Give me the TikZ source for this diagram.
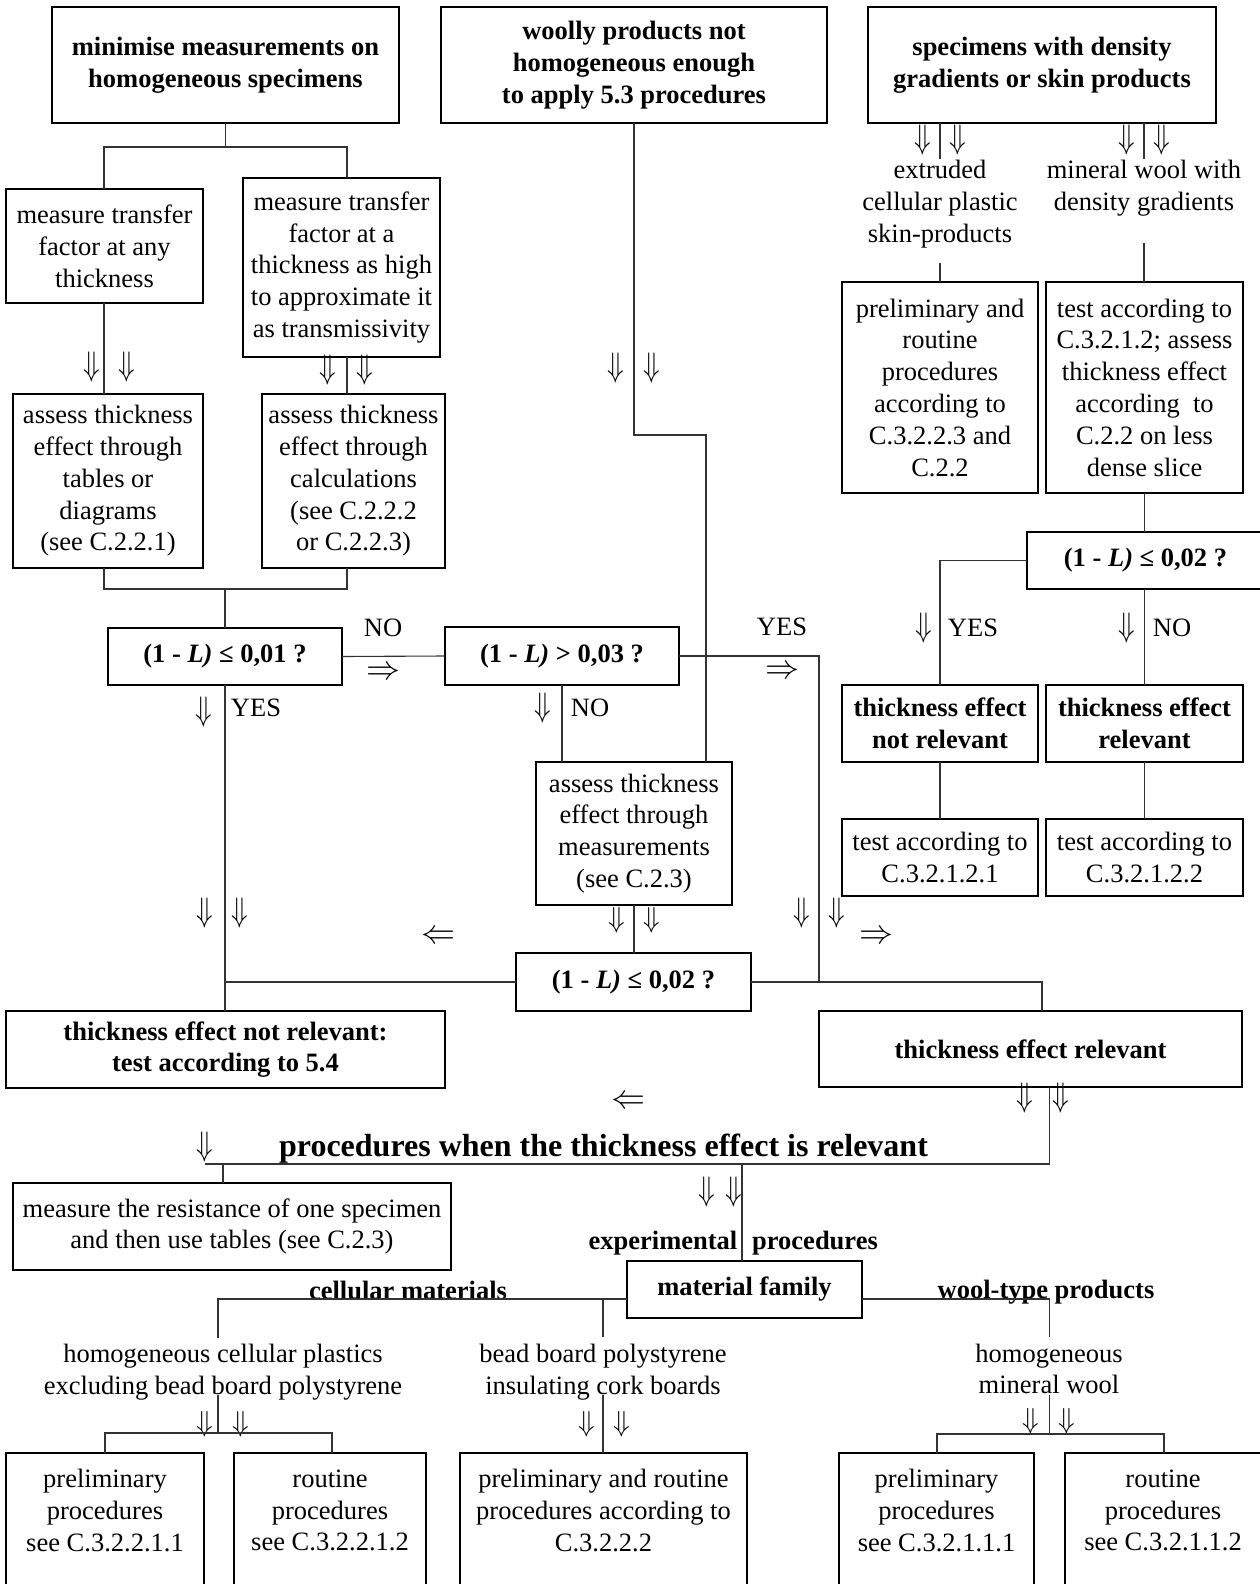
\RequirePackage{fix-cm}
\documentclass[tikz,border=0pt]{standalone}
\usepackage{graphicx}
\usepackage{fontspec}
\setmainfont{Liberation Serif}
\newcommand\fs{\fontsize{26.5}{31.8}\selectfont}
\newcommand\fsbig{\fontsize{32}{38}\selectfont}
\newcommand\fsarr{\fontsize{34}{40}\selectfont}
\begin{document}
\begin{tikzpicture}[x=1pt,y=-1pt,
  box/.style={draw, line width=1.2pt, inner sep=0pt, outer sep=0pt, align=center, font=\fs},
  bbox/.style={box, font=\fs\bfseries},
  lbl/.style={inner sep=0pt, outer sep=0pt, align=center, font=\fs},
  blbl/.style={lbl, font=\fs\bfseries},
  dn/.style={inner sep=0pt, outer sep=0pt, font=\fsarr},
  conn/.style={line width=1.1pt, draw=black!80}]
\useasboundingbox (0,0) rectangle (1260,1584);
\fill[white] (0,0) rectangle (1260,1584);
\clip (0,0) rectangle (1260,1584);

% ---------- boxes ----------
\node[bbox, minimum width=347, minimum height=116] (mini) at (225.5,65) {minimise measurements on\\homogeneous specimens};
\node[bbox, minimum width=386, minimum height=116] (woolly) at (634,65) {woolly products not\\homogeneous enough\\to apply 5.3 procedures};
\node[bbox, minimum width=348, minimum height=116] (spec) at (1042,65) {specimens with density\\gradients or skin products};

\node[box, minimum width=197, minimum height=114] (mtany) at (104.5,246) {measure transfer\\factor at any\\thickness};
\node[box, minimum width=197, minimum height=179] (mthigh) at (341.5,267.5) {measure transfer\\factor at a\\thickness as high\\to approximate it\\as transmissivity};
\node[box, minimum width=190, minimum height=174] (asstab) at (108,481) {assess thickness\\effect through\\tables or\\diagrams\\(see C.2.2.1)};
\node[box, minimum width=183, minimum height=174] (asscalc) at (353.5,481) {assess thickness\\effect through\\calculations\\(see C.2.2.2\\or C.2.2.3)};

\node[bbox, minimum width=234, minimum height=57] (q1) at (225,656.5) {(1 - \textit{L)} ≤ 0,01 ?};
\node[bbox, minimum width=234, minimum height=58] (q3) at (562,656) {(1 - \textit{L)} > 0,03 ?};
\node[box, minimum width=196, minimum height=143] (assmeas) at (634,833.5) {assess thickness\\effect through\\measurements\\(see C.2.3)};

\node[box, minimum width=196, minimum height=211] (prel) at (940,387.5) {preliminary and\\routine\\procedures\\according to\\C.3.2.2.3 and\\C.2.2};
\node[box, minimum width=197, minimum height=211] (testC) at (1144.5,387.5) {test according to\\C.3.2.1.2; assess\\thickness effect\\according~~to\\C.2.2 on less\\dense slice};
\node[bbox, minimum width=237, minimum height=57] (q2r) at (1145.5,560.5) {(1 - \textit{L)} ≤ 0,02 ?};
\node[bbox, minimum width=196, minimum height=77] (tenrR) at (940,723.5) {thickness effect\\not relevant};
\node[bbox, minimum width=197, minimum height=77] (terR) at (1144.5,723.5) {thickness effect\\relevant};
\node[box, minimum width=196, minimum height=77] (test1) at (940,857.5) {test according to\\C.3.2.1.2.1};
\node[box, minimum width=197, minimum height=77] (test2) at (1144.5,857.5) {test according to\\C.3.2.1.2.2};

\node[bbox, minimum width=235, minimum height=58] (q2m) at (633.5,982) {(1 - \textit{L)} ≤ 0,02 ?};
\node[bbox, minimum width=439, minimum height=77] (tenr54) at (225.5,1049.5) {thickness effect not relevant:\\test according to 5.4};
\node[bbox, minimum width=423, minimum height=76] (ter2) at (1030.5,1049) {thickness effect relevant};
\node[box, minimum width=438, minimum height=87] (measres) at (232,1226.5) {measure the resistance of one specimen\\and then use tables (see C.2.3)};
\node[bbox, minimum width=235, minimum height=57] (matfam) at (744.5,1289.5) {material family};

\node[box, minimum width=198, minimum height=147] (bP1) at (105,1526.5) {};
\node[box, minimum width=192, minimum height=147] (bR1) at (330,1526.5) {};
\node[box, minimum width=287, minimum height=147] (bPR) at (603.5,1526.5) {};
\node[box, minimum width=195, minimum height=147] (bP2) at (936.5,1526.5) {};
\node[box, minimum width=199, minimum height=147] (bR2) at (1164.5,1526.5) {};
\node[lbl] (tP1) at (105,1510.5) {preliminary\\procedures\\see C.3.2.2.1.1};
\node[lbl] (tR1) at (330,1510.5) {routine\\procedures\\see C.3.2.2.1.2};
\node[lbl] (tPR) at (603.5,1510.5) {preliminary and routine\\procedures according to\\C.3.2.2.2};
\node[lbl] (tP2) at (936.5,1510.5) {preliminary\\procedures\\see C.3.2.1.1.1};
\node[lbl] (tR2) at (1163,1510.5) {routine\\procedures\\see C.3.2.1.1.2};

% ---------- free texts ----------
\node[lbl] (ext) at (940,204) {extruded\\cellular plastic\\skin-products};
\node[lbl] (minw) at (1144,188) {mineral wool with\\density gradients};
\node[lbl] (no1) at (383,628) {NO};
\node[dn] (ra1) at (383,673) {$\Rightarrow$};
\node[lbl] (yes1) at (256,708) {YES};
\node[lbl] (yes2) at (782,627) {YES};
\node[dn] (ra2) at (782,672) {$\Rightarrow$};
\node[lbl] (no2) at (590,708) {NO};
\node[lbl] (yes3) at (973,628) {YES};
\node[lbl] (no3) at (1172,628) {NO};
\node[dn] (la1) at (438,937) {$\Leftarrow$};
\node[dn] (ra3) at (876,937) {$\Rightarrow$};
\node[dn] (la2) at (628,1102) {$\Leftarrow$};
\node[inner sep=0pt, font=\fsbig\bfseries] (title) at (603.5,1149) {procedures when the thickness effect is relevant};
\node[blbl] (expt) at (663,1243) {experimental};
\node[blbl] (proc) at (815,1243) {procedures};
\node[blbl] (cell) at (408,1290) {cellular materials};
\node[blbl] (wool) at (1046,1292) {wool-type products};
\node[lbl] (hcp) at (223,1372) {homogeneous cellular plastics\\excluding bead board polystyrene};
\node[lbl] (bead) at (603,1372) {bead board polystyrene\\insulating cork boards};
\node[lbl] (hmw) at (1049,1369) {homogeneous\\mineral wool};

% ---------- double arrows ----------
\foreach \n/\x/\y in {d1/92/367, d2/127/367, d3/328/370, d4/365/370, d5/616/368, d6/652/368,
  d7/923/140, d8/958/140, d9/1127/140, d10/1162/140, d11/204/712, d12/543/708,
  d13/924/628, d14/1127/628, d17/802/913, d18/837/913,
  d19/205/913, d20/240/913, d21/1025/1098, d22/1061/1098, d23/205/1147,
  d24/707/1192, d25/734/1192}
  \node[dn] (\n) at (\x,\y) {\scalebox{0.8}[1]{$\Downarrow$}};
\foreach \n/\x/\y in {d15/617/920, d16/652/920, d26/205/1424, d27/241/1424, d28/587/1424, d29/622/1424,
  d30/1031/1421, d31/1067/1421}
  \node[dn] (\n) at (\x,\y) {\scalebox{0.8}[0.85]{$\Downarrow$}};

% ---------- connectors ----------
\coordinate (cL) at (104,147); \coordinate (cR) at (347,147);
\draw[conn] (mini.south) -- (mini.south |- cL);
\draw[conn] (cL |- mtany.north) -- (cL) -- (cR) -- (cR |- mthigh.north);
\draw[conn] (cL |- mtany.south) -- (cL |- asstab.north);
\draw[conn] (cR |- mthigh.south) -- (cR |- asscalc.north);
\coordinate (dL) at (104,589); \coordinate (dR) at (347,589);
\draw[conn] (dL |- asstab.south) -- (dL) -- (dR) -- (dR |- asscalc.south);
\draw[conn] (q1.north) -- (q1.north |- dL);
\draw[conn] (q1.east) -- (q3.west);
\draw[conn] (q1.south) -- (q1.south |- tenr54.north);
\draw[conn] (q2m.west) -- (q2m.west -| q1.south);
\coordinate (w1) at (706,435);
\draw[conn] (woolly.south) |- (w1) -- (w1 |- assmeas.north);
\draw[conn] (q3.south) -- (q3.south |- assmeas.north);
\draw[conn] (assmeas.south) -- (assmeas.south |- q2m.north);
\coordinate (r1) at (819,656); \coordinate (r2) at (1042,982);
\draw[conn] (q3.east) -- (r1) -- (r1 |- r2);
\draw[conn] (q2m.east) -- (r2) -- (r2 |- ter2.north);

\coordinate (s1) at (940,159); \coordinate (s2) at (1144,159);
\draw[conn] (s1 |- spec.south) -- (s1);
\draw[conn] (s2 |- spec.south) -- (s2);
\coordinate (s1b) at (940,263); \coordinate (s2b) at (1144,243);
\draw[conn] (s1b) -- (s1b |- prel.north);
\draw[conn] (s2b) -- (s2b |- testC.north);
\draw[conn] (testC.south) -- (testC.south |- q2r.north);
\draw[conn] (q2r.west) -| (tenrR.north);
\draw[conn] (terR.north |- q2r.south) -- (terR.north);
\draw[conn] (tenrR.south) -- (test1.north);
\draw[conn] (terR.south) -- (test2.north);

\coordinate (p1) at (1049.5,1164); \coordinate (p0) at (205,1164);
\draw[conn] (p1 |- ter2.south) -- (p1) -- (p0);
\coordinate (p2) at (223,1164); \draw[conn] (p2) -- (p2 |- measres.north);
\coordinate (p3) at (742,1164); \draw[conn] (p3) -- (p3 |- matfam.north);
\coordinate (m1) at (218,1299); \coordinate (m1b) at (218,1338);
\draw[conn] (m1 -| matfam.west) -- (m1) -- (m1b);
\coordinate (m2) at (603,1299); \coordinate (m2b) at (603,1337);
\draw[conn] (m2) -- (m2b);
\coordinate (m3) at (1049.5,1299); \coordinate (m3b) at (1049.5,1337);
\draw[conn] (m3 -| matfam.east) -- (m3) -- (m3b);
\coordinate (h1) at (218,1395); \coordinate (h2) at (105,1433); \coordinate (h3) at (332,1433);
\draw[conn] (h1) -- (h1 |- h2);
\draw[conn] (h2 |- bP1.north) -- (h2) -- (h3) -- (h3 |- bR1.north);
\coordinate (b1) at (603,1395); \draw[conn] (b1) -- (b1 |- bPR.north);
\coordinate (k1) at (1049.5,1395); \coordinate (k2) at (937,1434); \coordinate (k3) at (1164,1434);
\draw[conn] (k1) -- (k1 |- k2);
\draw[conn] (k2 |- bP2.north) -- (k2) -- (k3) -- (k3 |- bR2.north);
\end{tikzpicture}
\end{document}
